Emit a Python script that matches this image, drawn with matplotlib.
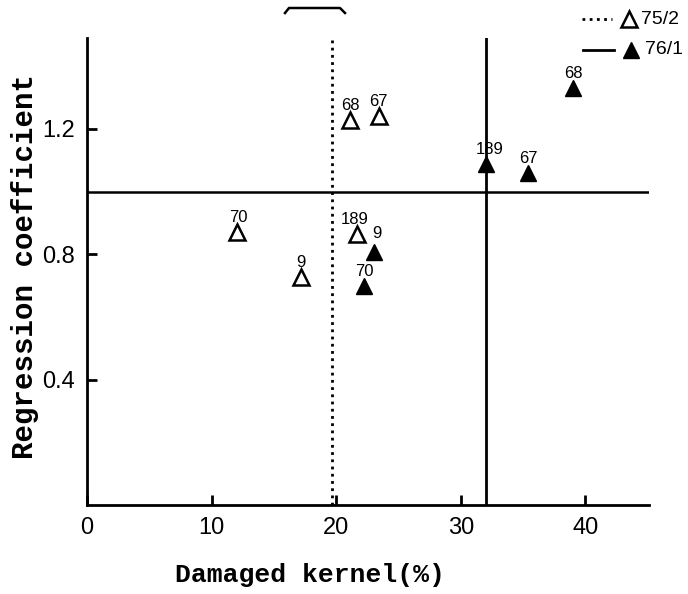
import matplotlib
matplotlib.use("Agg")
import matplotlib.pyplot as plt
from matplotlib.lines import Line2D

# data
labels_752 = ["70", "9", "68", "67", "189"]
x_752 = [12.0, 17.2, 21.1, 23.4, 21.7]
y_752 = [0.87, 0.727, 1.227, 1.24, 0.864]

labels_761 = ["9", "70", "189", "67", "68"]
x_761 = [23.05, 22.25, 32.0, 35.4, 39.0]
y_761 = [0.806, 0.70, 1.087, 1.06, 1.33]

hline_y = 1.0
vline_752 = 19.7
vline_761 = 32.0

xticks = [0, 10, 20, 30, 40]
yticks = [0.4, 0.8, 1.2]

W, H = 688, 594
fig = plt.figure(figsize=(W / 100, H / 100), dpi=100)
ax = fig.add_axes([87 / W, 1 - 505 / H, (649 - 87) / W, (505 - 38) / H])

for s in ["top", "right"]:
    ax.spines[s].set_visible(False)
for s in ["left", "bottom"]:
    ax.spines[s].set_linewidth(2)

ax.set_xlim(0, 45.1)
ax.set_ylim(0, 1.49)

ax.axhline(hline_y, color="black", lw=1.8)
ax.axvline(vline_761, color="black", lw=2)
ax.axvline(vline_752, color="black", lw=2, linestyle=(0, (1, 1.6)))

ax.plot(x_752, y_752, linestyle="none", marker="^", markersize=11,
        markerfacecolor="white", markeredgecolor="black", markeredgewidth=1.8,
        zorder=3)
ax.plot(x_761, y_761, linestyle="none", marker="^", markersize=12,
        color="black", zorder=3)

# point labels
off_752 = {"70": (1, 5), "9": (0, 5), "68": (0, 5), "67": (0, 5),
           "189": (-2, 5)}
off_761 = {"9": (2, 8), "70": (0, 5), "189": (3, 5), "67": (0, 5),
           "68": (0, 5)}
for lab, x, y in zip(labels_752, x_752, y_752):
    dx, dy = off_752[lab]
    ax.annotate(lab, (x, y), xytext=(dx, dy), textcoords="offset points",
                ha="center", va="bottom", fontsize=12, family="Liberation Sans")
for lab, x, y in zip(labels_761, x_761, y_761):
    dx, dy = off_761[lab]
    ax.annotate(lab, (x, y), xytext=(dx, dy), textcoords="offset points",
                ha="center", va="bottom", fontsize=12, family="Liberation Sans")

ax.set_xticks(xticks)
ax.set_yticks(yticks)
ax.set_xticklabels([str(t) for t in xticks])
ax.set_yticklabels([f"{t:.1f}" for t in yticks])
ax.tick_params(direction="in", length=7, width=2, labelsize=17, pad=9)
for t in ax.get_xticklabels() + ax.get_yticklabels():
    t.set_family("Liberation Sans")

ax.set_xlabel("Damaged kernel(%)", family="Liberation Mono", fontweight="bold",
              fontsize=19)
ax.xaxis.set_label_coords(0.397, -0.125)
ax.set_ylabel("Regression coefficient", family="Liberation Mono",
              fontweight="bold", fontsize=21)
ax.yaxis.set_label_coords(-0.085, 0.51)

# legend drawn in figure pixels
def fx(px):
    return px / W

def fy(py):
    return 1 - py / H

fig.add_artist(Line2D([fx(582), fx(612)], [fy(19), fy(19)], color="black",
                      lw=2, linestyle=(0, (1, 1.6))))
fig.add_artist(Line2D([fx(629)], [fy(19)], marker="^", markersize=11,
                      markerfacecolor="white", markeredgecolor="black",
                      markeredgewidth=1.8, linestyle="none"))
fig.text(fx(641), fy(19), "75/2", va="center", ha="left", fontsize=14,
         family="Liberation Sans")
fig.add_artist(Line2D([fx(583), fx(614)], [fy(50), fy(50)], color="black",
                      lw=2))
fig.add_artist(Line2D([fx(631)], [fy(50)], marker="^", markersize=12,
                      color="black", linestyle="none"))
fig.text(fx(645), fy(50), "76/1", va="center", ha="left", fontsize=14,
         family="Liberation Sans")

# bracket mark at the top of the scan
fig.add_artist(Line2D([fx(285), fx(289), fx(340), fx(345)],
                      [fy(13), fy(8), fy(8), fy(13)], color="black", lw=1.8))

fig.savefig("out.png", dpi=100)
